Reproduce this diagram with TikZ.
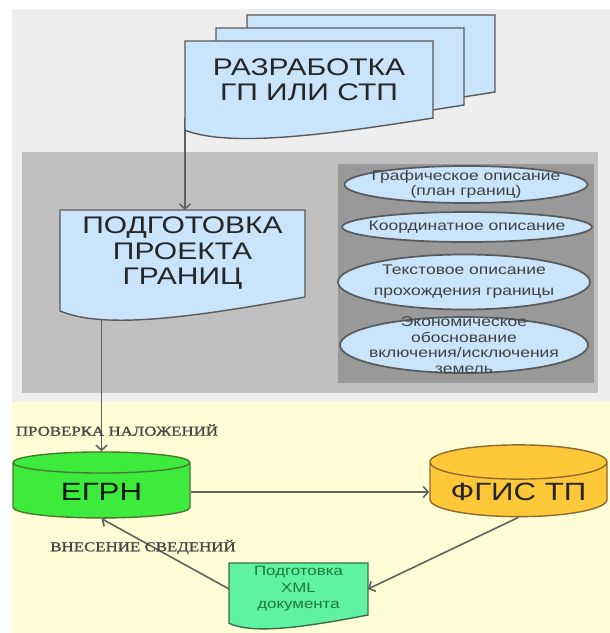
\documentclass[tikz,border=0pt]{standalone}
\usepackage{fontspec}
\setmainfont{Liberation Sans}[FakeStretch=1.25]
\newfontfamily\labelfont{Liberation Serif}[FakeStretch=1.25,FakeBold=1.2]
\usetikzlibrary{shapes.geometric,arrows.meta}

\definecolor{panelgray}{HTML}{EEEEEE}
\definecolor{bandgray}{HTML}{C0C0C0}
\definecolor{boxgray}{HTML}{999999}
\definecolor{cream}{HTML}{FFFDD6}
\definecolor{docblue}{HTML}{C9E4FB}
\definecolor{egrngreen}{HTML}{3CEB3C}
\definecolor{egrnedge}{HTML}{4A7A30}
\definecolor{fgisgold}{HTML}{FFC838}
\definecolor{fgisedge}{HTML}{8B6B2E}
\definecolor{xmlmint}{HTML}{5FF2A2}
\definecolor{xmledge}{HTML}{3D6B50}
\definecolor{xmltext}{HTML}{1F7A35}

\pgfdeclarelayer{panels}
\pgfdeclarelayer{edges}
\pgfsetlayers{panels,edges,main}

\newdimen\docl \newdimen\docr \newdimen\doct \newdimen\docb
\newdimen\docw \newdimen\doch
\makeatletter
\pgfdeclareshape{document}{%
  \inheritsavedanchors[from=rectangle]%
  \inheritanchorborder[from=rectangle]%
  \inheritanchor[from=rectangle]{center}%
  \inheritanchor[from=rectangle]{north}%
  \inheritanchor[from=rectangle]{south}%
  \inheritanchor[from=rectangle]{east}%
  \inheritanchor[from=rectangle]{west}%
  \inheritanchor[from=rectangle]{north east}%
  \inheritanchor[from=rectangle]{north west}%
  \inheritanchor[from=rectangle]{south east}%
  \inheritanchor[from=rectangle]{south west}%
  \backgroundpath{%
    \southwest \docl=\pgf@x \docb=\pgf@y
    \northeast \docr=\pgf@x \doct=\pgf@y
    \docw=\docr \advance\docw by -\docl
    \doch=\doct \advance\doch by -\docb
    \pgfpathmoveto{\pgfqpoint{\docl}{\doct}}%
    \pgfpathlineto{\pgfqpoint{\docr}{\doct}}%
    \pgfpathlineto{\pgfqpoint{\docr}{\docb}}%
    \pgfpathcurveto
      {\pgfqpoint{\dimexpr\docl+0.46\docw\relax}{\dimexpr\docb-0.28\doch\relax}}%
      {\pgfqpoint{\dimexpr\docl+0.16\docw\relax}{\dimexpr\docb-0.35\doch\relax}}%
      {\pgfqpoint{\docl}{\dimexpr\docb-0.16\doch\relax}}%
    \pgfpathclose
  }%
}
\makeatother

\begin{document}
\begin{tikzpicture}[%
        x = 1pt, y = -1pt,
        doc/.style = {shape=document, draw=black!65, line width=1.4pt,
            fill=docblue, outer sep=0pt, inner sep=2pt, align=center,
            text=black!85, font=\fontsize{24}{25.5}\selectfont},
        oval/.style = {ellipse, draw=black!65, line width=1.7pt, fill=docblue,
            inner sep=-10pt, align=center, text=black!75,
            font=\fontsize{14}{15.5}\selectfont},
        store/.style = {cylinder, shape border rotate=90, aspect=0.24,
            line width=1.4pt, minimum width=177pt, minimum height=66pt,
            font=\fontsize{25}{27}\selectfont},
        link/.style = {draw=black!62, line width=1.6pt,
            -{Straight Barb[length=5pt,width=11pt]}},
        note/.style = {text=black!72, inner sep=1pt,
            font=\labelfont\fontsize{13.5}{15}\selectfont}
    ]
      \useasboundingbox (0,0) rectangle (610,633);
      \begin{pgfonlayer}{panels}
        \fill [panelgray] (12,9) rectangle (610,402);
        \fill [bandgray] (22,152) rectangle (598,393);
        \fill [boxgray] (338,164) rectangle (594,383);
        \fill [cream] (12,402) rectangle (610,633);
      \end{pgfonlayer}
      \node [doc, minimum width=248pt, minimum height=77pt] (back) at (371,53.5) {};
      \node [doc, minimum width=248pt, minimum height=77pt] (mid) at (340,66.5) {};
      \node [doc, minimum width=248pt, minimum height=77pt] (razrab) at (309,79.5) {РАЗРАБОТКА\\ГП ИЛИ СТП};
      \node [doc, minimum width=245pt, minimum height=87pt] (podg) at (182.5,253.5) {ПОДГОТОВКА\\ПРОЕКТА\\ГРАНИЦ};
      \node [oval, minimum width=243pt, minimum height=37pt] (graf) at (466,184.5) {Графическое описание\\(план границ)};
      \node [oval, minimum width=245pt, minimum height=30pt] (koord) at (467,227) {Координатное описание};
      \node [oval, minimum width=252pt, minimum height=55pt, font=\fontsize{14}{21}\selectfont] (tekst) at (464,282) {Текстовое описание\\прохождения границы};
      \node [oval, minimum width=248pt, minimum height=56pt] (ekon) at (464,345) {Экономическое\\обоснование\\включения/исключения\\земель};
      \node [store, draw=egrnedge, fill=egrngreen, text=black!90!green] (egrn) at (101.5,492) {ЕГРН};
      \node [store, draw=fgisedge, fill=fgisgold, text=black!85] (fgis) at (518.5,492) {ФГИС ТП};
      \node [doc, draw=xmledge, fill=xmlmint, text=xmltext, minimum width=139pt, minimum height=52pt, font=\fontsize{13.5}{16.5}\selectfont] (xml) at (298.5,589) {Подготовка\\XML\\документа};
      \node [note] (prov) at (117,430) {ПРОВЕРКА НАЛОЖЕНИЙ};
      \node [note] (vnes) at (143,547) {ВНЕСЕНИЕ СВЕДЕНИЙ};
      \begin{pgfonlayer}{edges}
        \draw [link] (razrab.south west) -- (razrab.south west |- podg.north);
        \draw [link] (podg.south -| egrn.north) -- (egrn.north);
        \draw [link] (egrn.east) -- (fgis.west);
        \draw [link] (fgis.south) -- (xml.east);
        \draw [link] (xml.west) -- (egrn.south);
      \end{pgfonlayer}
\end{tikzpicture}
\end{document}
